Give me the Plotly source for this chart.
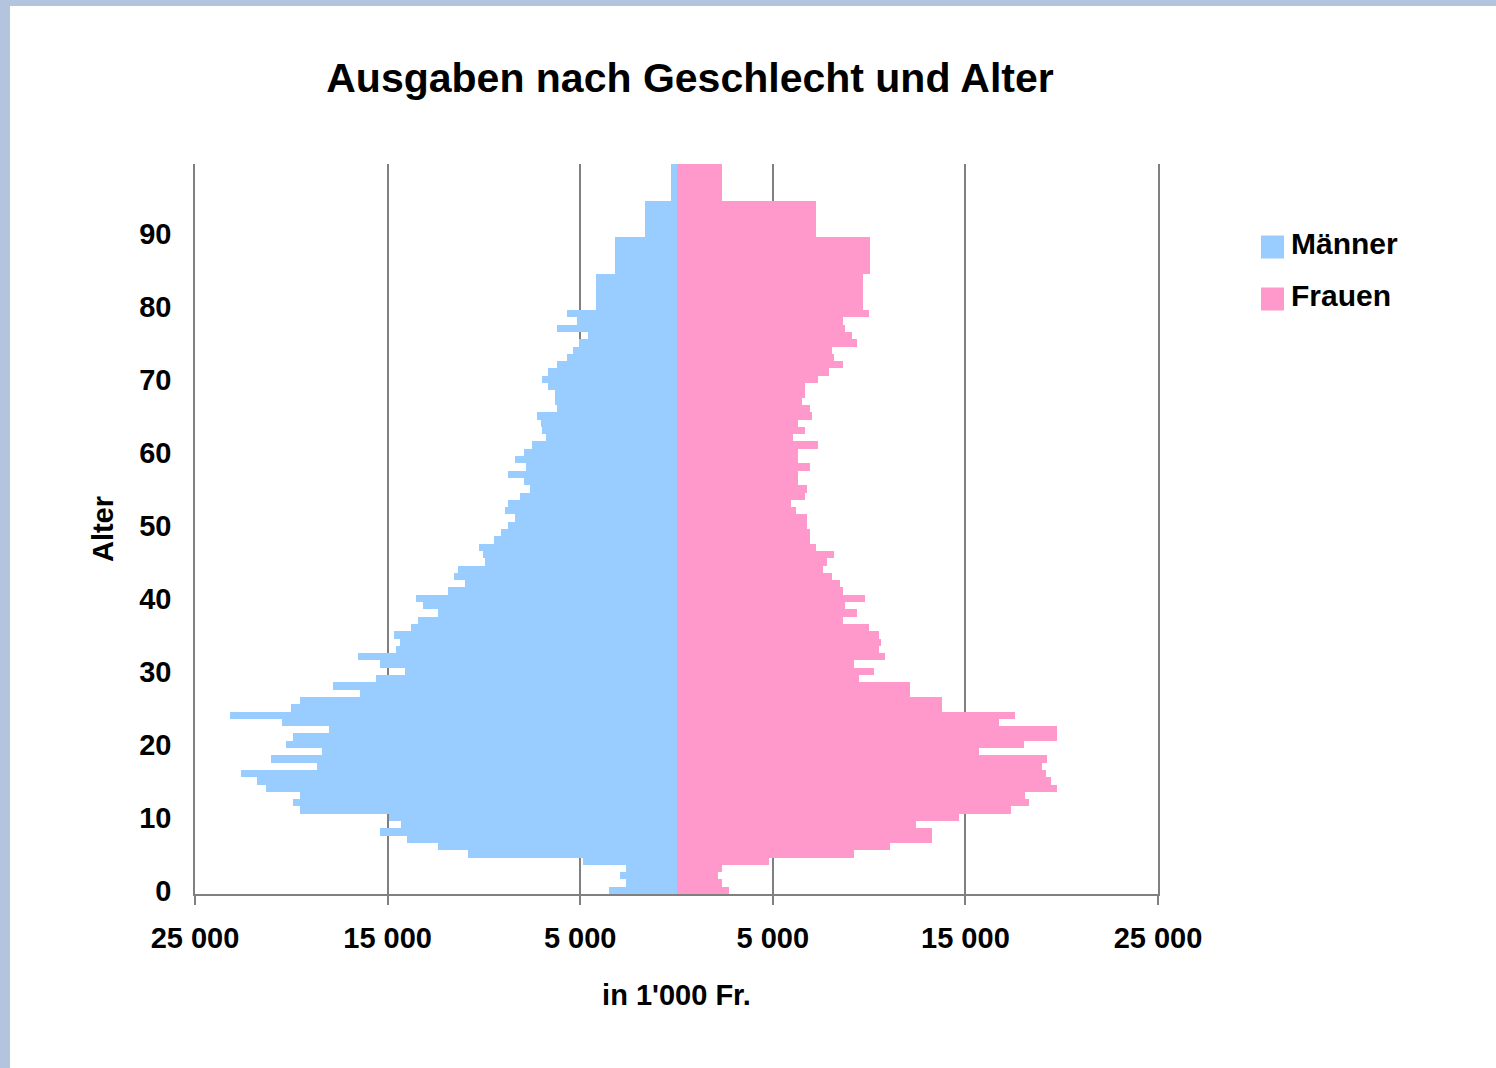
import plotly.graph_objects as go

# ---- data (in 1'000 Fr.) ----
age_start = list(range(80)) + [80, 85, 90, 95]
age_span = [1] * 80 + [5, 5, 5, 5]

maenner = [3480, 2600, 2910, 2600, 4880, 10800, 12360, 13970, 15420, 14280,
           14950, 19570, 19890, 19570, 21290, 21760, 22590, 18690, 21030, 18430,
           20300, 19890, 18020, 20460, 23160, 19990, 19570, 16410, 17860, 15580,
           14120, 15420, 16560, 14540, 14380, 14690, 13810, 13400, 12360, 13140,
           13550, 11840, 10960, 11530, 11370, 9920, 10070, 10230, 9500, 9090,
           8770, 8360, 8930, 8770, 8100, 7630, 7940, 8770, 7790, 8360,
           7940, 7480, 6800, 6960, 7060, 7220, 6180, 6330, 6330, 6650,
           6960, 6650, 6180, 5660, 5350, 5040, 4620, 6180, 5190, 5660,
           4200, 3170, 1610, 310]

frauen = [2750, 2340, 2180, 2340, 4780, 9240, 11110, 13240, 13240, 12410,
          14690, 17390, 18280, 18120, 19730, 19420, 19160, 19000, 19260, 15680,
          18020, 19730, 19730, 16720, 17550, 13810, 13810, 12100, 12100, 9500,
          10230, 9240, 10800, 10490, 10640, 10490, 9970, 8670, 9350, 8770,
          9810, 8670, 8510, 8050, 7630, 7790, 8200, 7220, 6910, 6910,
          6750, 6750, 6230, 5920, 6650, 6750, 6330, 6330, 6910, 6330,
          6330, 7370, 6070, 6650, 6330, 7060, 6910, 6490, 6650, 6650,
          7370, 7940, 8670, 8200, 8050, 9350, 9090, 8770, 8670, 9970,
          9660, 10070, 7220, 2340]

x_tickvals = [-25000, -15000, -5000, 5000, 15000, 25000]
x_ticktext = ["25 000", "15 000", "5 000", "5 000", "15 000", "25 000"]
y_tickvals = [a + 0.5 for a in range(0, 91, 10)]
y_ticktext = [str(a) for a in range(0, 91, 10)]
y_minor_ticks = list(range(0, 101, 5))

series_names = ["Männer", "Frauen"]
series_colors = ["#99CCFF", "#FF99CC"]

# ---- geometry helpers (pixel -> paper) ----
W, H = 1496, 1068
PL, PR, PT, PB = 195, 1158, 164, 894
def px(x):
    return (x - PL) / (PR - PL)
def py(y):
    return (PB - y) / (PB - PT)

FONT = "Liberation Sans, Arial, sans-serif"

centers = [s + w / 2 for s, w in zip(age_start, age_span)]

fig = go.Figure()
fig.add_trace(go.Bar(
    y=centers, x=[-v for v in maenner], width=age_span, orientation="h",
    name=series_names[0], marker=dict(color=series_colors[0], line=dict(width=0)),
    customdata=maenner, hovertemplate="Alter %{y}<br>%{customdata}<extra>Männer</extra>",
    showlegend=False,
))
fig.add_trace(go.Bar(
    y=centers, x=frauen, width=age_span, orientation="h",
    name=series_names[1], marker=dict(color=series_colors[1], line=dict(width=0)),
    hovertemplate="Alter %{y}<br>%{x}<extra>Frauen</extra>",
    showlegend=False,
))

fig.update_layout(
    width=W, height=H,
    margin=dict(l=PL, r=W - PR, t=PT, b=H - PB, pad=0),
    paper_bgcolor="white", plot_bgcolor="white",
    barmode="overlay", bargap=0,
    font=dict(family=FONT, color="black"),
    title=dict(text="<b>Ausgaben nach Geschlecht und Alter</b>",
               font=dict(size=41, family=FONT, color="black"),
               xref="paper", x=px(690), xanchor="center",
               yref="container", y=1 - 78 / H, yanchor="middle"),
    xaxis=dict(
        range=[-25000, 25000], tickvals=x_tickvals, ticktext=x_ticktext,
        showgrid=True, gridcolor="#808080", gridwidth=1.5,
        zeroline=False, showline=True, linecolor="#808080", linewidth=1.5,
        ticks="outside", ticklen=9, tickcolor="#808080", tickwidth=1.5,
        ticklabelstandoff=8,
        tickfont=dict(size=29, family=FONT, weight="bold"),
        title=dict(text="in 1'000 Fr.", font=dict(size=29, family=FONT, weight="bold"),
                   standoff=32),
    ),
    yaxis=dict(
        range=[0, 100], tickvals=y_tickvals, ticktext=y_ticktext,
        showgrid=False, zeroline=False,
        showline=True, mirror=True, linecolor="#808080", linewidth=1.5,
        ticks="outside", ticklen=16, tickcolor="rgba(0,0,0,0)",
        tickfont=dict(size=29, family=FONT, weight="bold"),
        title=dict(text="Alter", font=dict(size=29, family=FONT, weight="bold"),
                   standoff=17),
    ),
    yaxis2=dict(
        overlaying="y", matches="y", anchor="free", position=px(677), side="left",
        range=[0, 100], tickvals=y_minor_ticks, showticklabels=False,
        ticks="outside", ticklen=8, tickcolor="#333333", tickwidth=1.5,
        showline=True, linecolor="#404040", linewidth=1.5,
        showgrid=False, zeroline=False,
    ),
)

# blue frame on top and left edges
frame = "#B3C4DE"
fig.add_shape(type="rect", xref="paper", yref="paper", x0=px(0), x1=px(10),
              y0=py(H), y1=py(0), fillcolor=frame, line=dict(width=0), layer="below")
fig.add_shape(type="rect", xref="paper", yref="paper", x0=px(0), x1=px(W),
              y0=py(6), y1=py(0), fillcolor=frame, line=dict(width=0), layer="below")

# legend (drawn manually to match the large swatches)
legend_rows = [247, 299]
for name, color, yc in zip(series_names, series_colors, legend_rows):
    fig.add_shape(type="rect", xref="paper", yref="paper",
                  x0=px(1261), x1=px(1284), y0=py(yc + 11.5), y1=py(yc - 11.5),
                  fillcolor=color, line=dict(width=0))
    fig.add_annotation(xref="paper", yref="paper", x=px(1289), y=py(yc - 4),
                       xanchor="left", yanchor="middle", showarrow=False,
                       text=f"<b>{name}</b>", font=dict(size=30, family=FONT, color="black"))

fig.write_html("out.html", config={"displayModeBar": False},
               post_script="document.body.style.margin='0';document.body.style.overflow='hidden';")
